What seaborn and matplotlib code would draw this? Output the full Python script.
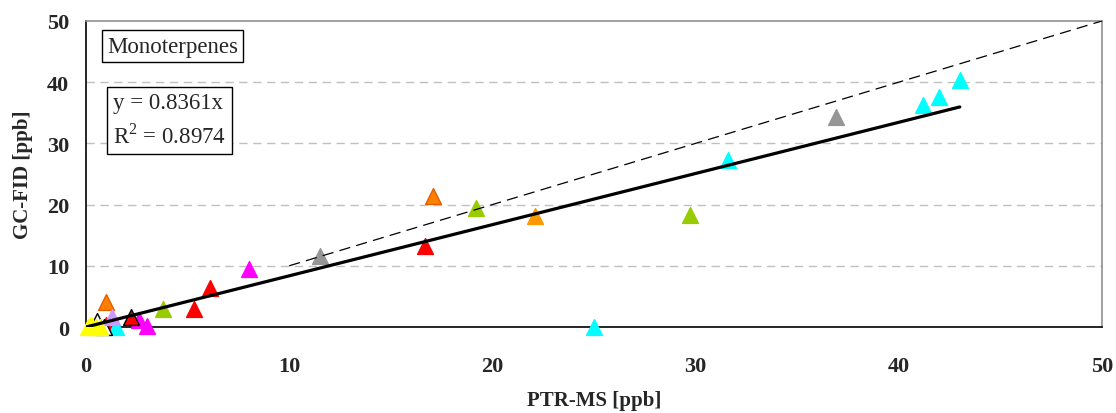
import matplotlib
matplotlib.use("Agg")
import matplotlib.pyplot as plt
import pandas as pd
import seaborn as sns

# PTR-MS vs GC-FID monoterpene values [ppb]
ptr = [0.98, 17.1, 22.1, 3.8, 19.2, 29.7, 11.5, 36.9, 5.3, 6.1, 16.7, 1.0,
       8.0, 2.6, 3.0, 31.6, 41.2, 42.0, 43.0, 25.0, 1.5, 2.2, 0.55, 0.9,
       1.3, 0.1, 0.3, 0.5, 0.2, 0.7]
gc = [4.1, 21.4, 18.1, 2.9, 19.4, 18.3, 11.6, 34.3, 2.9, 6.4, 13.2, 0.3,
      9.5, 1.1, 0.2, 27.3, 36.3, 37.6, 40.4, 0.0, 0.0, 1.6, 1.0, 0.0,
      1.6, 0.0, 0.1, 0.0, 0.3, 0.0]
group = ["orange", "orange", "amber", "green", "green", "green", "grey", "grey",
         "red", "red", "red", "red", "magenta", "magenta", "magenta",
         "cyan", "cyan", "cyan", "cyan", "cyan", "cyan", "redblack", "black", "black",
         "lavender", "yellow", "yellow", "yellow", "yellow", "yellow"]

face = {"orange": "#FF8000", "amber": "#FF9900", "green": "#99CC00", "grey": "#969696",
        "red": "#FF0000", "magenta": "#FF00FF", "cyan": "#00FFFF", "redblack": "#FF0000",
        "black": "#FFFFFF", "lavender": "#CC99FF", "yellow": "#FFFF00"}
edge = {"orange": "#E06000", "amber": "#FF9900", "green": "#99CC00", "grey": "#969696",
        "red": "#FF0000", "magenta": "#FF00FF", "cyan": "#00FFFF", "redblack": "#000000",
        "black": "#000000", "lavender": "#CC99FF", "yellow": "#FFFF00"}

slope = 0.8361
fit_x = [0, 43]
one_x = [10, 50]

df = pd.DataFrame({"ptr": ptr, "gc": gc, "group": group})

sns.set_style("white")
plt.rcParams["font.family"] = ["Liberation Serif", "DejaVu Serif"]
plt.rcParams["mathtext.fontset"] = "custom"
plt.rcParams["mathtext.rm"] = "Liberation Serif"

fig = plt.figure(figsize=(11.16, 4.14), dpi=100)
ax = fig.add_axes([0.077, 0.2077, 0.9105, 0.7393])

for g, sub in df.groupby("group", sort=False):
    sns.scatterplot(data=sub, x="ptr", y="gc", marker="^", s=130, color=face[g],
                    edgecolor=edge[g], linewidth=1, ax=ax, clip_on=False, zorder=3)

ax.plot(fit_x, [slope * v for v in fit_x], color="black", lw=2.3, zorder=4)
ax.plot(one_x, one_x, color="black", lw=0.9, dashes=(9, 5), zorder=4)

ax.set_xlim(0, 50)
ax.set_ylim(0, 50)
ax.set_xticks([0, 10, 20, 30, 40, 50])
ax.set_yticks([0, 10, 20, 30, 40, 50])
for v in [10, 20, 30, 40]:
    ax.axhline(v, color="#c0c0c0", lw=1, dashes=(6, 4), zorder=1)

for s in ["left", "bottom"]:
    ax.spines[s].set_color("black")
    ax.spines[s].set_linewidth(1.2)
for s in ["top", "right"]:
    ax.spines[s].set_color("#909090")
    ax.spines[s].set_linewidth(1.2)

ax.tick_params(axis="x", direction="out", length=5, width=1, pad=16, labelsize=16)
ax.tick_params(axis="y", direction="out", length=5, width=1, pad=7, labelsize=16)
for lab in ax.get_xticklabels() + ax.get_yticklabels():
    lab.set_fontweight("bold")

ax.set_xlabel("PTR-MS [ppb]", fontsize=15, fontweight="bold", labelpad=10)
ax.set_ylabel("GC-FID [ppb]", fontsize=15, fontweight="bold", labelpad=10)

ax.text(0.0207, 0.918, "Monoterpenes", transform=ax.transAxes, fontsize=16.5,
        va="center", ha="left",
        bbox=dict(boxstyle="square,pad=0.22", fc="white", ec="black", lw=1))
ax.text(0.0266, 0.676, "y = 0.8361x\nR$^{2}$ = 0.8974", transform=ax.transAxes,
        fontsize=16.5, va="center", ha="left", linespacing=1.5,
        bbox=dict(boxstyle="square,pad=0.25", fc="white", ec="black", lw=1))

plt.savefig("out.png", dpi=100)
plt.close()
